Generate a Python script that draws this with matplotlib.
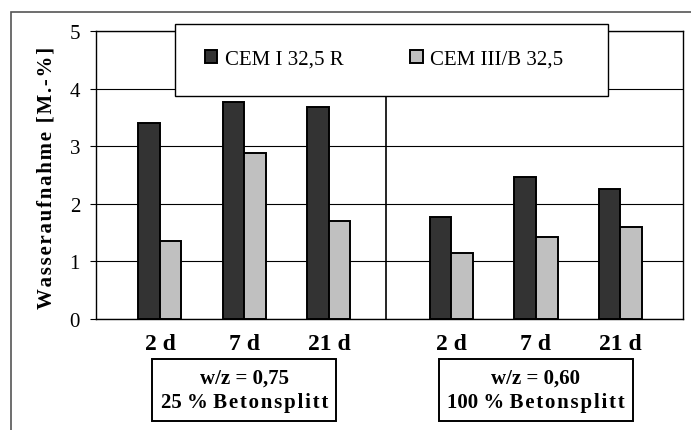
import numpy as np
import matplotlib
matplotlib.use("Agg")
import matplotlib.pyplot as plt
from matplotlib.patches import Rectangle

plt.rcParams['font.family'] = ['Liberation Serif', 'DejaVu Serif']

# data
ages = ["2 d", "7 d", "21 d", "2 d", "7 d", "21 d"]
cem1 = [3.40, 3.77, 3.68, 1.77, 2.47, 2.26]
cem3 = [1.35, 2.88, 1.71, 1.15, 1.42, 1.60]
series = ["CEM I 32,5 R", "CEM III/B 32,5"]
groups = ["w/z = 0,75\n25 % Betonsplitt", "w/z = 0,60\n100 % Betonsplitt"]
yticks = [0, 1, 2, 3, 4, 5]
ylabel = "Wasseraufnahme [M.-%]"

# layout: two blocks of three ages, extra gap between the blocks
gap = 0.45
x = np.array([0, 1, 2, 3 + gap, 4 + gap, 5 + gap], dtype=float)
w = 0.255

fig = plt.figure(figsize=(6.91, 4.31), dpi=100)
ax = fig.add_axes([0.1389, 0.2575, 0.8495, 0.6683])

ax.bar(x - w / 2, cem1, w, color="#333333", edgecolor="black", lw=1.4,
       label=series[0], zorder=3)
ax.bar(x + w / 2, cem3, w, color="#c0c0c0", edgecolor="black", lw=1.4,
       label=series[1], zorder=3)

ax.set_xlim(-0.757, 6.19)
ax.set_ylim(0, 5)
ax.set_yticks(yticks)
ax.set_yticklabels([str(t) for t in yticks], fontsize=15)
ax.yaxis.grid(True, color="black", lw=0.8, zorder=0)
ax.tick_params(axis="y", length=4.5, width=0.8, direction="out", pad=7)
ax.set_xticks(x)
ax.set_xticklabels(ages, fontsize=17, fontweight="bold")
ax.tick_params(axis="x", length=0, pad=10)
for s in ax.spines.values():
    s.set_linewidth(1.0)

# divider between the two blocks
ax.axvline(2 + (1 + gap) * 0.465, color="black", lw=1.2, zorder=2)

# y label, slightly letter-spaced
fig.text(47 / 691, 1 - 178 / 431, "\u200a".join(ylabel), rotation=90,
         ha="center", va="center", fontsize=15, fontweight="bold")

# legend box drawn by hand, entries placed inside it
ax.add_patch(Rectangle((0.1346, 0.7743), 0.7377, 0.25, transform=ax.transAxes,
                       fc="white", ec="black", lw=1.0, zorder=4,
                       clip_on=False))
leg = ax.legend(loc="center left", bbox_to_anchor=(0.1857, 0.9028),
                ncol=2, fontsize=15, frameon=False, borderpad=0,
                borderaxespad=0, handlelength=0.6, handleheight=0.6,
                handletextpad=0.35, columnspacing=3.2)
leg.set_zorder(5)

# group boxes below the axis (last word letter-spaced as in the original)
for i, g in enumerate(groups):
    cx = x[3 * i + 1]
    top, bottom = g.split("\n")
    head, word = bottom.rsplit(" ", 1)
    txt = top + "\n" + head + " " + "\u200a".join(word)
    ax.annotate(txt, xy=(cx, 0), xycoords=("data", "axes fraction"),
                xytext=(0, -51), textcoords="offset points",
                ha="center", va="center", fontsize=15, fontweight="bold",
                linespacing=1.35,
                bbox=dict(boxstyle="square,pad=0.4", fc="white", ec="black",
                          lw=1.4),
                annotation_clip=False)

# outer frame (top and left visible)
fig.patches.append(Rectangle((11 / 691, -0.02), 1.0, 1 - 13 / 431 + 0.02,
                             transform=fig.transFigure, fill=False,
                             ec="#555555", lw=1.2))

fig.savefig("out.png", dpi=100)
